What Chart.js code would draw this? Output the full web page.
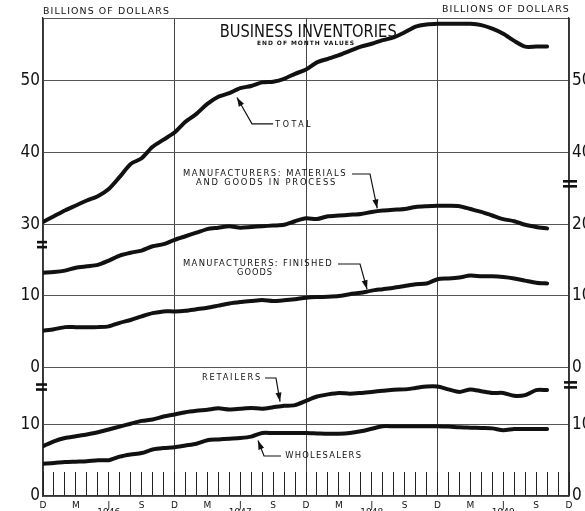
<!DOCTYPE html>
<html>
<head>
<meta charset="utf-8">
<script src="https://cdn.jsdelivr.net/npm/chart.js@4.4.1/dist/chart.umd.min.js"></script>
<style>
  html, body { margin: 0; padding: 0; background: #fff; }
  #wrap { width: 585px; height: 511px; }
</style>
</head>
<body>
<div id="wrap"><canvas id="inv" width="585" height="511"></canvas></div>
<script>
/* ---------- Data (billions of dollars, end of month, Dec 1945 .. Oct 1949) ---------- */
const monthLetters = ['D', 'J', 'F', 'M', 'A', 'M', 'J', 'J', 'A', 'S', 'O', 'N'];
const labelledMonths = [0, 3, 6, 9];                   // D, M, J, S get a letter
const yearLabels = ['1946', '1947', '1948', '1949'];

const total = [30.3, 31.1, 31.9, 32.6, 33.3, 33.9, 34.9, 36.6, 38.4, 39.2,
               40.8, 41.8, 42.8, 44.3, 45.4, 46.8, 47.8, 48.3, 49.0, 49.3,
               49.8, 49.9, 50.3, 51.0, 51.6, 52.6, 53.1, 53.6, 54.2, 54.8,
               55.2, 55.7, 56.1, 56.8, 57.6, 57.9, 58.0, 58.0, 58.0, 58.0,
               57.8, 57.3, 56.6, 55.6, 54.8, 54.8, 54.8];
const materials = [13.2, 13.3, 13.5, 13.9, 14.1, 14.3, 14.9, 15.6, 16.0, 16.3,
                   16.9, 17.2, 17.8, 18.3, 18.8, 19.3, 19.5, 19.7, 19.5, 19.6,
                   19.7, 19.8, 19.9, 20.4, 20.8, 20.7, 21.1, 21.2, 21.3, 21.4,
                   21.7, 21.9, 22.0, 22.1, 22.4, 22.5, 22.55, 22.55, 22.5, 22.1,
                   21.7, 21.2, 20.7, 20.4, 19.9, 19.6, 19.4];
const finished = [5.1, 5.3, 5.6, 5.6, 5.6, 5.6, 5.7, 6.2, 6.6, 7.1,
                  7.55, 7.8, 7.8, 7.9, 8.1, 8.3, 8.6, 8.9, 9.1, 9.25,
                  9.4, 9.25, 9.35, 9.5, 9.7, 9.8, 9.85, 9.95, 10.2, 10.4,
                  10.7, 10.9, 11.1, 11.35, 11.6, 11.7, 12.3, 12.4, 12.55, 12.8,
                  12.7, 12.7, 12.6, 12.4, 12.1, 11.8, 11.7];
const retailers = [6.95, 7.65, 8.1, 8.35, 8.6, 8.9, 9.3, 9.7, 10.1, 10.5,
                   10.7, 11.1, 11.4, 11.7, 11.9, 12.05, 12.25, 12.1, 12.2, 12.3,
                   12.2, 12.4, 12.6, 12.7, 13.3, 13.9, 14.2, 14.4, 14.3, 14.4,
                   14.55, 14.7, 14.85, 14.9, 15.1, 15.3, 15.3, 14.9, 14.55, 14.9,
                   14.65, 14.4, 14.4, 14.0, 14.1, 14.8, 14.8];
const wholesalers = [4.5, 4.6, 4.75, 4.8, 4.85, 5.0, 5.0, 5.5, 5.8, 6.0,
                     6.5, 6.7, 6.8, 7.05, 7.3, 7.8, 7.9, 8.0, 8.1, 8.3,
                     8.8, 8.8, 8.8, 8.8, 8.8, 8.75, 8.7, 8.7, 8.8, 9.05,
                     9.4, 9.75, 9.75, 9.75, 9.75, 9.75, 9.75, 9.7, 9.6, 9.55,
                     9.5, 9.45, 9.2, 9.35, 9.35, 9.35, 9.35];

// the chart stacks three broken panels on one scale
const TOP_OFFSET = 8;    // total: 30 sits on the 38 line
const MID_OFFSET = 18;   // manufacturers panel starts at 18
const SCALE_MAX = 66.8;
const tickPos = [0, 10, 18, 28, 38, 48, 58, SCALE_MAX];
const leftTickLabels = ['0', '10', '0', '10', '30', '40', '50', ''];
const rightTickLabels = ['0', '10', '0', '10', '20', '40', '50', ''];

/* ---------- Helpers ---------- */
const NARROW = "'Liberation Sans Narrow', 'DejaVu Sans Condensed', 'DejaVu Sans', sans-serif";
const PLAIN = "'DejaVu Sans', 'Liberation Sans', sans-serif";
const INK = '#111';

function series(values, offset) {
    return values.map((v, i) => ({ x: i, y: v + offset }));
}

function lineSet(values, offset) {
    return {
        data: series(values, offset),
        yAxisID: 'y',
        borderColor: INK, borderWidth: 4, pointRadius: 0,
        tension: 0.25, borderCapStyle: 'round', borderJoinStyle: 'round', fill: false
    };
}

// text squeezed or spread to a given pixel width
function fitText(ctx, str, x, y, w, align) {
    ctx.letterSpacing = '0px';
    const nat = ctx.measureText(str).width;
    if (nat < w && str.length > 1) {
        ctx.letterSpacing = ((w - nat) / (str.length - 1)).toFixed(2) + 'px';
    }
    let sx = x;
    if (align === 'center') sx = x - w / 2;
    else if (align === 'right') sx = x - w;
    ctx.textAlign = 'left';
    ctx.fillText(str, sx, y, w);
    ctx.letterSpacing = '0px';
}

/* ---------- Annotations (text positions in month / scale units) ---------- */
const notes = [
    { text: 'TOTAL', m: 21.2, v: 51.85, w: 38, align: 'left' },
    { text: 'MANUFACTURERS: MATERIALS', m: 20.26, v: 45.0, w: 164, align: 'center' },
    { text: 'AND GOODS IN PROCESS', m: 20.4, v: 43.7, w: 141, align: 'center' },
    { text: 'MANUFACTURERS: FINISHED', m: 19.62, v: 32.42, w: 150, align: 'center' },
    { text: 'GOODS', m: 19.35, v: 31.15, w: 36, align: 'center' },
    { text: 'RETAILERS', m: 17.25, v: 16.49, w: 60, align: 'center' },
    { text: 'WHOLESALERS', m: 22.1, v: 5.59, w: 77, align: 'left' }
];
const leaders = [
    [[21.0, 52.0], [19.07, 52.0], [17.7, 55.7]],
    [[28.2, 45.0], [29.84, 45.0], [30.5, 40.2]],
    [[26.92, 32.42], [28.93, 32.42], [29.57, 28.9]],
    [[20.26, 16.49], [21.26, 16.49], [21.63, 13.2]],
    [[21.72, 5.59], [20.17, 5.59], [19.62, 7.75]]
];

const decorPlugin = {
    id: 'decor',
    afterDraw(chart) {
        const { ctx, chartArea } = chart;
        const xs = chart.scales.x, ys = chart.scales.y;
        const px = m => xs.getPixelForValue(m);
        const py = v => ys.getPixelForValue(v);
        ctx.save();
        ctx.fillStyle = INK;
        ctx.strokeStyle = INK;
        ctx.textBaseline = 'middle';

        // headings
        ctx.font = '9.5px ' + PLAIN;
        fitText(ctx, 'BILLIONS OF DOLLARS', chartArea.left, chartArea.top - 6, 127, 'left');
        fitText(ctx, 'BILLIONS OF DOLLARS', chartArea.right + 1, chartArea.top - 8, 128, 'right');
        ctx.font = '17px ' + NARROW;
        fitText(ctx, 'BUSINESS INVENTORIES', px(24.2), py(64.8), 177, 'center');
        ctx.font = 'bold 6px ' + PLAIN;
        fitText(ctx, 'END OF MONTH VALUES', px(24.0), py(63.2), 98, 'center');

        // series labels
        ctx.font = '8.5px ' + PLAIN;
        notes.forEach(n => fitText(ctx, n.text, px(n.m), py(n.v), n.w, n.align));

        // leader lines with arrow heads
        ctx.lineWidth = 1.2;
        leaders.forEach(pts => {
            const p = pts.map(([m, v]) => [px(m), py(v)]);
            ctx.beginPath();
            ctx.moveTo(p[0][0], p[0][1]);
            for (let i = 1; i < p.length; i++) ctx.lineTo(p[i][0], p[i][1]);
            ctx.stroke();
            const [ax, ay] = p[p.length - 1], [bx, by] = p[p.length - 2];
            const ang = Math.atan2(ay - by, ax - bx);
            ctx.beginPath();
            ctx.moveTo(ax, ay);
            ctx.lineTo(ax - 9 * Math.cos(ang) + 3 * Math.sin(ang), ay - 9 * Math.sin(ang) - 3 * Math.cos(ang));
            ctx.lineTo(ax - 9 * Math.cos(ang) - 3 * Math.sin(ang), ay - 9 * Math.sin(ang) + 3 * Math.cos(ang));
            ctx.closePath();
            ctx.fill();
        });

        // axis break marks
        const brk = (x, v, w) => {
            const y = py(v);
            ctx.fillRect(x, y - 4, w, 2.6);
            ctx.fillRect(x, y + 1, w, 2.6);
        };
        brk(chartArea.left - 6, 35.1, 10);
        brk(chartArea.left - 7, 15.2, 11);
        brk(chartArea.right - 6, 43.6, 14);
        brk(chartArea.right - 5, 15.5, 13);
        ctx.restore();
    }
};

/* ---------- Chart ---------- */
new Chart(document.getElementById('inv'), {
    type: 'line',
    data: {
        datasets: [
            lineSet(total, TOP_OFFSET),
            lineSet(materials, MID_OFFSET),
            lineSet(finished, MID_OFFSET),
            lineSet(retailers, 0),
            lineSet(wholesalers, 0)
        ]
    },
    options: {
        responsive: false,
        animation: false,
        layout: { padding: { top: 18, left: 0, right: 0, bottom: 0 } },
        plugins: { legend: { display: false }, tooltip: { enabled: false } },
        scales: {
            x: {
                type: 'linear', position: 'bottom', min: 0, max: 48,
                afterBuildTicks: s => { s.ticks = Array.from({ length: 49 }, (_, i) => ({ value: i })); },
                afterFit: s => { s.height = 15; s.paddingLeft = 0; s.paddingRight = 0; },
                grid: {
                    color: c => (c.tick && c.tick.value % 12 === 0) ? '#444' : 'rgba(0,0,0,0)',
                    tickColor: '#222', tickLength: -24, tickWidth: 1, lineWidth: 1
                },
                border: { display: true, color: '#333', width: 1.2 },
                ticks: {
                    autoSkip: false, maxRotation: 0, padding: 30, color: INK,
                    font: { family: PLAIN, size: 9, lineHeight: 0.8 },
                    callback: v => {
                        const mo = v % 12;
                        if (!labelledMonths.includes(mo)) return '';
                        if (mo === 6) return [monthLetters[mo], yearLabels[Math.floor(v / 12)]];
                        return monthLetters[mo];
                    }
                }
            },
            y: {
                type: 'linear', position: 'left', min: 0, max: SCALE_MAX,
                afterBuildTicks: s => { s.ticks = tickPos.map(v => ({ value: v })); },
                afterFit: s => { s.width = 43; },
                grid: { color: '#555', lineWidth: 1, drawTicks: false },
                border: { display: true, color: '#333', width: 1.2 },
                ticks: {
                    autoSkip: false, padding: 3, color: INK,
                    font: { family: NARROW, size: 17 },
                    callback: v => leftTickLabels[tickPos.indexOf(v)]
                }
            },
            yRight: {
                type: 'linear', position: 'right', min: 0, max: SCALE_MAX,
                afterBuildTicks: s => { s.ticks = tickPos.map(v => ({ value: v })); },
                afterFit: s => { s.width = 16; },
                grid: { display: false, drawTicks: false },
                border: { display: true, color: '#333', width: 1.2 },
                ticks: {
                    autoSkip: false, padding: 3, color: INK,
                    font: { family: NARROW, size: 17 },
                    callback: v => rightTickLabels[tickPos.indexOf(v)]
                }
            }
        }
    },
    plugins: [decorPlugin]
});
</script>
</body>
</html>
